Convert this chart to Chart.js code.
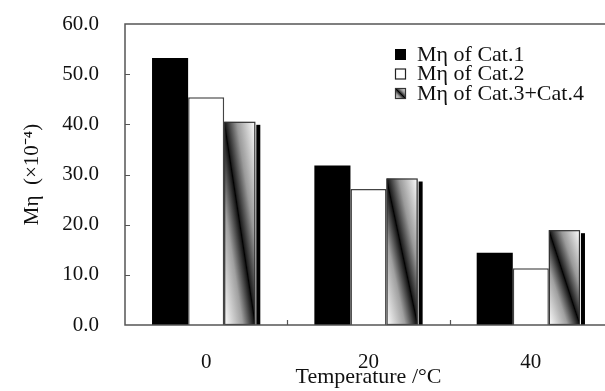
<!DOCTYPE html>
<html>
<head>
<meta charset="utf-8">
<script src="https://cdn.jsdelivr.net/npm/chart.js@4/dist/chart.umd.min.js"></script>
<style>
  html, body { margin: 0; padding: 0; background: #fff; overflow: hidden; }
  #wrap { width: 614px; height: 391px; }
</style>
</head>
<body>
<div id="wrap"><canvas id="c" width="614" height="391"></canvas></div>
<script>
// Temperatures (°C) and Mη values (×10⁻⁴) for each catalyst group
const temperatures = ['0', '20', '40'];
const cat1Values = [53.2, 31.8, 14.4];
const cat2Values = [45.4, 27.1, 11.3];
const cat34Values = [40.5, 29.2, 18.9];
const seriesLabels = ['Mη of Cat.1', 'Mη of Cat.2', 'Mη of Cat.3+Cat.4'];
const yTicks = [0, 10, 20, 30, 40, 50, 60];

const SERIF = '"Liberation Serif", "Times New Roman", serif';
const INK = '#111111';
const FRAME = '#555555';

// White → black → white gradient whose dark ridge runs along the
// top-left → bottom-right diagonal of the rectangle.
function diagonalGradient(ctx, x0, y0, x1, y1) {
  const w = x1 - x0, h = y1 - y0;
  const cx = (x0 + x1) / 2, cy = (y0 + y1) / 2;
  const k = (w * h) / (w * w + h * h);
  const g = ctx.createLinearGradient(cx - h * k, cy + w * k, cx + h * k, cy - w * k);
  g.addColorStop(0, '#ffffff');
  g.addColorStop(0.3, '#a0a0a0');
  g.addColorStop(0.48, '#1a1a1a');
  g.addColorStop(0.5, '#000000');
  g.addColorStop(0.52, '#202020');
  g.addColorStop(0.7, '#9a9a9a');
  g.addColorStop(1, '#ffffff');
  return g;
}

function drawShadedBox(ctx, x0, y0, x1, y1, shadow) {
  if (shadow) {
    ctx.fillStyle = '#000';
    ctx.fillRect(x1 + 1, y0 + 3, shadow, y1 - y0 - 3);
  }
  ctx.fillStyle = diagonalGradient(ctx, x0, y0, x1, y1);
  ctx.fillRect(x0, y0, x1 - x0, y1 - y0);
  ctx.strokeStyle = '#333';
  ctx.lineWidth = 1.2;
  ctx.strokeRect(x0 + 0.5, y0 + 0.5, x1 - x0 - 1, y1 - y0 - 1);
}

const decorations = {
  id: 'decorations',
  afterDatasetsDraw(chart) {
    const ctx = chart.ctx;
    const area = chart.chartArea;
    ctx.save();

    // Cat.3+Cat.4 bars: shaded front face plus a dark side strip
    chart.getDatasetMeta(2).data.forEach(bar => {
      const p = bar.getProps(['x', 'y', 'base', 'width'], true);
      const left = p.x - p.width / 2;
      const right = p.x + p.width / 2 - 5;
      drawShadedBox(ctx, left, p.y, right, p.base, 4);
    });

    // Plot frame
    ctx.strokeStyle = FRAME;
    ctx.lineWidth = 1.5;
    ctx.strokeRect(area.left, area.top, area.right - area.left, area.bottom - area.top);

    // Inward tick marks on the value axis
    const ys = chart.scales.y;
    ctx.lineWidth = 1.2;
    ctx.beginPath();
    yTicks.slice(1, -1).forEach(v => {
      const py = Math.round(ys.getPixelForValue(v)) + 0.5;
      ctx.moveTo(area.left, py);
      ctx.lineTo(area.left + 5, py);
    });
    // Inward tick marks between temperature groups
    const xs = chart.scales.x;
    for (let i = 0; i < temperatures.length - 1; i++) {
      const px = Math.round((xs.getPixelForValue(i) + xs.getPixelForValue(i + 1)) / 2) + 0.5;
      ctx.moveTo(px, area.bottom);
      ctx.lineTo(px, area.bottom - 5);
    }
    ctx.stroke();
    ctx.restore();
  },
  afterDraw(chart, args, opts) {
    // Legend inside the plot, top right
    const ctx = chart.ctx;
    ctx.save();
    ctx.font = '22px ' + SERIF;
    ctx.textBaseline = 'middle';
    ctx.textAlign = 'left';
    chart.data.datasets.forEach((ds, i) => {
      const cy = opts.y + i * opts.rowGap;
      const bx = opts.x, by = cy - 5, s = 11;
      if (i === 0) {
        ctx.fillStyle = '#000';
        ctx.fillRect(bx, by, s, s);
      } else if (i === 1) {
        ctx.fillStyle = '#fff';
        ctx.fillRect(bx, by, s, s);
        ctx.strokeStyle = '#222';
        ctx.lineWidth = 1.2;
        ctx.strokeRect(bx + 0.5, by + 0.5, s - 1, s - 1);
      } else {
        drawShadedBox(ctx, bx, by, bx + s, by + s, 0);
      }
      ctx.fillStyle = INK;
      ctx.fillText(ds.label, opts.x + 22, cy + 1);
    });
    ctx.restore();
  }
};

new Chart(document.getElementById('c'), {
  type: 'bar',
  data: {
    labels: temperatures,
    datasets: [
      { label: seriesLabels[0], data: cat1Values, backgroundColor: '#000', borderColor: '#222', borderWidth: 0 },
      { label: seriesLabels[1], data: cat2Values, backgroundColor: '#fff', borderColor: '#444', borderWidth: 1.5 },
      { label: seriesLabels[2], data: cat34Values, backgroundColor: 'rgba(0,0,0,0)', borderWidth: 0 }
    ]
  },
  options: {
    responsive: false,
    animation: false,
    devicePixelRatio: 1,
    categoryPercentage: 0.667,
    barPercentage: 1.0,
    layout: { padding: { top: 24, right: 2, bottom: 0, left: 0 } },
    plugins: {
      legend: { display: false },
      tooltip: { enabled: false },
      decorations: { x: 395, y: 54, rowGap: 19.5 }
    },
    scales: {
      x: {
        grid: { display: false, drawTicks: false },
        border: { display: false },
        ticks: { color: INK, font: { family: SERIF, size: 21 }, padding: 25, maxRotation: 0 },
        title: {
          display: true, text: 'Temperature /°C', color: INK,
          font: { family: SERIF, size: 22 }, padding: { top: 0, bottom: 1 }
        },
        afterFit(scale) { scale.height = 66; }
      },
      y: {
        min: 0, max: 60,
        grid: { display: false, drawTicks: false },
        border: { display: false },
        afterBuildTicks(scale) { scale.ticks = yTicks.map(v => ({ value: v })); },
        ticks: {
          color: INK, font: { family: SERIF, size: 21 }, padding: 26,
          callback: v => Number(v).toFixed(1)
        },
        title: {
          display: true, text: 'Mη  (×10⁻⁴)', color: INK,
          font: { family: SERIF, size: 21 }, padding: { top: 20, bottom: 0 }
        },
        afterFit(scale) {
          scale.width = 125;
          // plot box edges are fixed by the layout padding instead
          scale.paddingTop = 0;
          scale.paddingBottom = 0;
        }
      }
    }
  },
  plugins: [decorations]
});
</script>
</body>
</html>
